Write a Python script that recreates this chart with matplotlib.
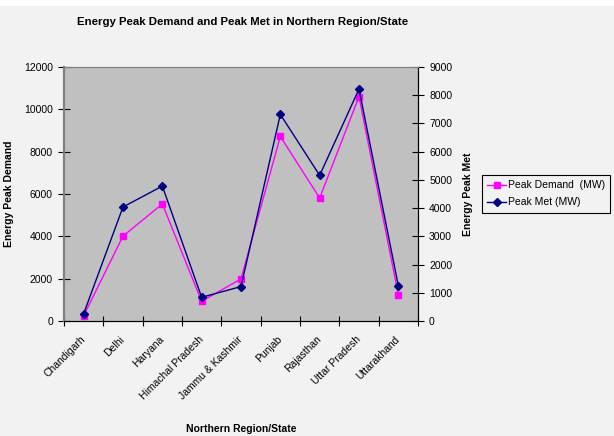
import numpy as np
import matplotlib.pyplot as plt

plt.rcParams['font.family'] = ['Liberation Sans', 'DejaVu Sans']

# Northern region states and their peak figures (MW)
states = ["Chandigarh", "Delhi", "Haryana", "Himachal Pradesh",
          "Jammu & Kashmir", "Punjab", "Rajasthan", "Uttar Pradesh",
          "Uttarakhand"]
peak_demand = [250, 4010, 5530, 930, 1990, 8720, 5810, 10600, 1240]
peak_met = [260, 4040, 4780, 840, 1220, 7320, 5160, 8220, 1250]

fig = plt.figure(figsize=(6.14, 4.36), dpi=100)
fig.patch.set_facecolor("#f2f2f2")
# thin white strip along the top edge
fig.patches.append(plt.Rectangle((0, 1 - 6 / 436), 1, 6 / 436,
                                 transform=fig.transFigure,
                                 facecolor="white", edgecolor="none"))

W, H = 614, 436
left, right, top, bottom = 64, 418, 67, 321
ax = fig.add_axes([left / W, 1 - bottom / H, (right - left) / W, (bottom - top) / H])
ax.set_facecolor("#c0c0c0")
ax2 = ax.twinx()

x = np.arange(len(states)) + 0.5

l1, = ax.plot(x, peak_demand, color="#ff00ff", lw=1, marker="s",
              markersize=5, label="Peak Demand  (MW)", zorder=3)
l2, = ax2.plot(x, peak_met, color="#000080", lw=1, marker="D",
               markersize=4, label="Peak Met (MW)")

ax.set_xlim(0, len(states))
ax.set_ylim(0, 12000)
ax2.set_ylim(0, 9000)
ax.set_yticks(np.arange(0, 12001, 2000))
ax2.set_yticks(np.arange(0, 9001, 1000))

ax.set_xticks(np.arange(len(states) + 1))
ax.set_xticklabels([])
ax.set_xticks(x, minor=True)
ax.set_xticklabels(states, minor=True, rotation=45, ha="right", va="center",
                   rotation_mode="anchor", fontsize=7.5)
ax.tick_params(axis="x", which="minor", length=0, pad=12)
ax.tick_params(axis="x", which="major", length=7, direction="inout")
ax.tick_params(axis="y", labelsize=7.5, length=8, direction="inout", pad=4)
ax2.tick_params(axis="y", labelsize=7.5, length=8, direction="inout", pad=4)

for a in (ax, ax2):
    a.spines["left"].set_color("#808080")
    a.spines["left"].set_linewidth(1.5)
    a.spines["top"].set_color("#808080")
    a.spines["bottom"].set_color("black")
    a.spines["right"].set_color("black")

ax.set_ylabel("Energy Peak Demand", fontsize=7.5, fontweight="bold")
ax.yaxis.set_label_coords((14 - left) / (right - left), 0.5)
ax2.set_ylabel("Energy Peak Met", fontsize=7.5, fontweight="bold")
ax2.yaxis.set_label_coords((463 - left) / (right - left), 0.5)
ax.set_xlabel("Northern Region/State", fontsize=7.5, fontweight="bold")
ax.xaxis.set_label_coords(0.5, (bottom - 424) / (bottom - top))

fig.text(243 / W, 1 - 22 / H, "Energy Peak Demand and Peak Met in Northern Region/State",
         ha="center", va="center", fontsize=8.2, fontweight="bold")

leg = fig.legend([l1, l2], [l1.get_label(), l2.get_label()],
                 loc="upper left", bbox_to_anchor=(482 / W, 1 - 175 / H),
                 fontsize=7.5, frameon=True, fancybox=False, framealpha=1,
                 edgecolor="black", facecolor="#f2f2f2", handlelength=1.8,
                 borderpad=0.5, labelspacing=0.7, handletextpad=0.2,
                 borderaxespad=0)
leg.get_frame().set_linewidth(0.8)

fig.savefig("out.png", dpi=100, facecolor=fig.get_facecolor())
